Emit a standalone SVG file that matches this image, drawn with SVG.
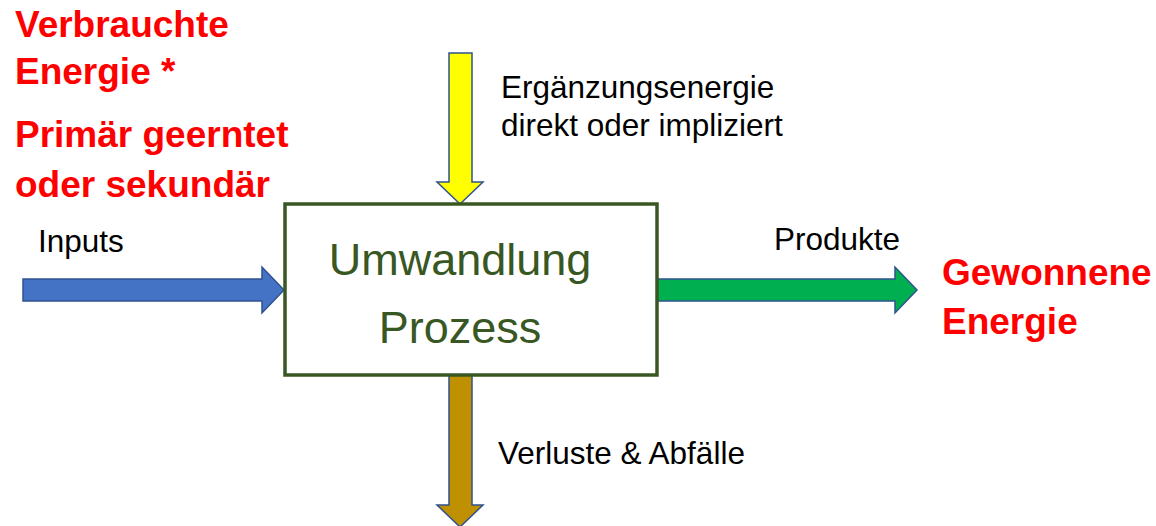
<svg xmlns="http://www.w3.org/2000/svg" width="1156" height="526" viewBox="0 0 1156 526">
<style>
.red{font-family:"Liberation Sans",Arial,sans-serif;font-weight:bold;font-size:37px;fill:#ff0000}
.lbl{font-family:"Liberation Sans",Arial,sans-serif;font-size:31.5px;fill:#000}
.proc{font-family:"Liberation Sans",Arial,sans-serif;font-size:45px;fill:#385723;text-anchor:middle}
.arr{stroke:#2f528f;stroke-width:1.5;stroke-linejoin:miter}
</style>
<rect width="1156" height="526" fill="#fff"/>
<g id="connectors">
<polygon id="arrow-in" class="arr" fill="#4472c4" points="23,279 262,279 262,267 284,290 262,313 262,301 23,301"/>
<polygon id="arrow-top" class="arr" fill="#ffff00" points="449,53 472,53 472,182 483,182 460,204 437,182 449,182"/>
<polygon id="arrow-out" class="arr" fill="#00b050" points="657,279 895,279 895,267 917,290 895,313 895,301 657,301"/>
<polygon id="arrow-bottom" class="arr" fill="#bf9000" points="449,375 472,375 472,505 483,505 460,527 437,505 449,505"/>
</g>
<g id="process">
<rect x="285" y="204" width="372" height="171" fill="#fff" stroke="#385723" stroke-width="3.5"/>
<text class="proc" x="460" y="275">Umwandlung</text>
<text class="proc" x="460" y="343">Prozess</text>
</g>
<g id="verbrauchte">
<text class="red" x="15" y="37">Verbrauchte</text>
<text class="red" x="15" y="84">Energie *</text>
<text class="red" x="15" y="147">Primär geerntet</text>
<text class="red" x="15" y="197">oder sekundär</text>
</g>
<g id="gewonnene">
<text class="red" x="942" y="285">Gewonnene</text>
<text class="red" x="942" y="334">Energie</text>
</g>
<g id="labels">
<text class="lbl" x="38" y="252">Inputs</text>
<text class="lbl" x="501" y="98">Ergänzungsenergie</text>
<text class="lbl" x="501" y="136">direkt oder impliziert</text>
<text class="lbl" x="774" y="250">Produkte</text>
<text class="lbl" x="498" y="464">Verluste &amp; Abfälle</text>
</g>
</svg>
